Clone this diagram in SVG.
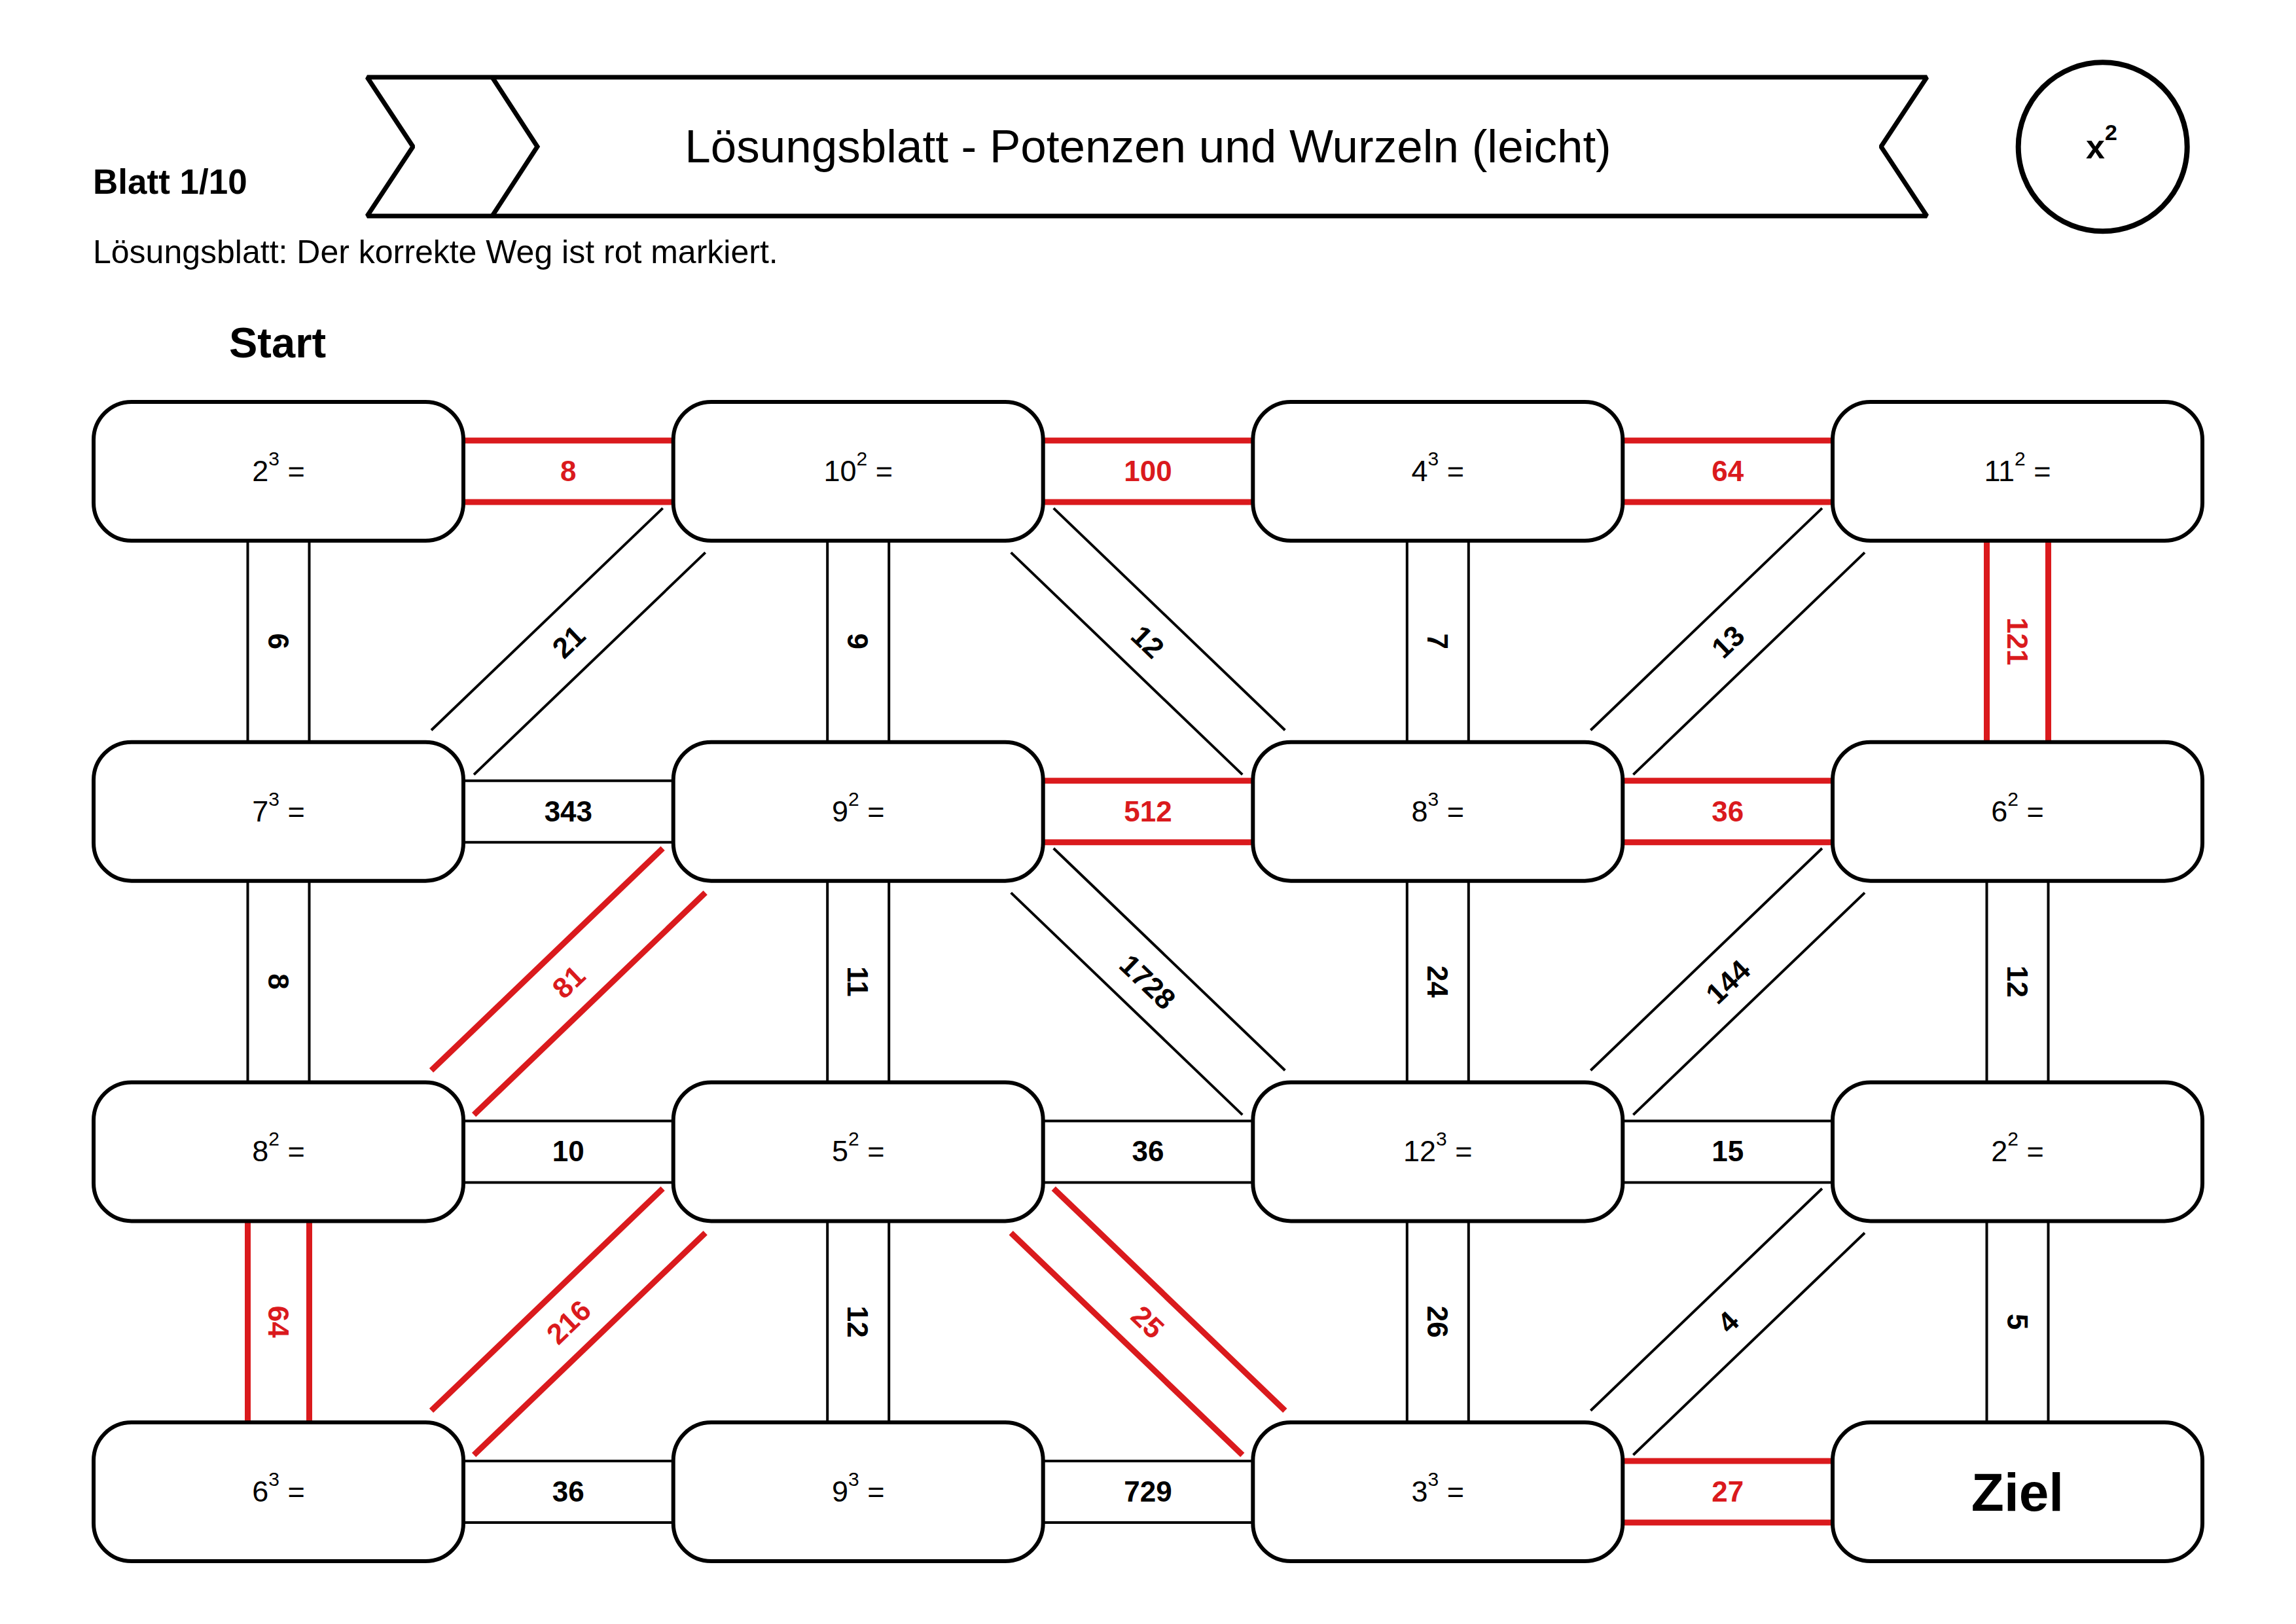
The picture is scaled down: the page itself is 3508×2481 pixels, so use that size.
<svg xmlns="http://www.w3.org/2000/svg" width="3508" height="2481" viewBox="0 0 3508 2481">
<style>
text{font-family:"Liberation Sans",Arial,sans-serif;fill:#000}
.box{fill:#fff;stroke:#000;stroke-width:6}
.cb{stroke:#000;stroke-width:4;fill:none}
.cr{stroke:#da1a1d;stroke-width:9;fill:none}
.lb{font-size:44px;font-weight:bold;text-anchor:middle}
.lr{font-size:44px;font-weight:bold;text-anchor:middle;fill:#da1a1d}
.nt{font-size:45px;text-anchor:middle;white-space:pre}
.sup{font-size:30px}
.ziel{font-size:82px;font-weight:bold;text-anchor:middle}
</style>
<rect width="3508" height="2481" fill="#fff"/>
<g id="header">
<polygon points="561,118 2944,118 2874,224 2944,330 561,330 631,224" fill="#fff" stroke="#000" stroke-width="7" stroke-linejoin="bevel"/>
<polyline points="752,118 821,224 752,330" fill="none" stroke="#000" stroke-width="7"/>
<text x="1754" y="248" font-size="71" text-anchor="middle">Lösungsblatt - Potenzen und Wurzeln (leicht)</text>
<text x="142" y="296" font-size="53" font-weight="bold">Blatt 1/10</text>
<text x="142" y="402" font-size="50">Lösungsblatt: Der korrekte Weg ist rot markiert.</text>
<circle cx="3212.7" cy="224.3" r="129" fill="#fff" stroke="#000" stroke-width="8"/>
<text x="3187" y="242" font-size="52" font-weight="bold">x<tspan font-size="34" dy="-28">2</tspan></text>
<text x="350" y="546" font-size="65" font-weight="bold">Start</text>
</g>
<g id="connectors">
<g><line class="cr" x1="708" y1="673" x2="1028.7" y2="673"/><line class="cr" x1="708" y1="767" x2="1028.7" y2="767"/><text class="lr" x="868.35" y="735">8</text></g>
<g><line class="cr" x1="1593.7" y1="673" x2="1914.3" y2="673"/><line class="cr" x1="1593.7" y1="767" x2="1914.3" y2="767"/><text class="lr" x="1754" y="735">100</text></g>
<g><line class="cr" x1="2479.3" y1="673" x2="2800" y2="673"/><line class="cr" x1="2479.3" y1="767" x2="2800" y2="767"/><text class="lr" x="2639.65" y="735">64</text></g>
<g><line class="cb" x1="708" y1="1192.7" x2="1028.7" y2="1192.7"/><line class="cb" x1="708" y1="1286.7" x2="1028.7" y2="1286.7"/><text class="lb" x="868.35" y="1254.7">343</text></g>
<g><line class="cr" x1="1593.7" y1="1192.7" x2="1914.3" y2="1192.7"/><line class="cr" x1="1593.7" y1="1286.7" x2="1914.3" y2="1286.7"/><text class="lr" x="1754" y="1254.7">512</text></g>
<g><line class="cr" x1="2479.3" y1="1192.7" x2="2800" y2="1192.7"/><line class="cr" x1="2479.3" y1="1286.7" x2="2800" y2="1286.7"/><text class="lr" x="2639.65" y="1254.7">36</text></g>
<g><line class="cb" x1="708" y1="1712.4" x2="1028.7" y2="1712.4"/><line class="cb" x1="708" y1="1806.4" x2="1028.7" y2="1806.4"/><text class="lb" x="868.35" y="1774.4">10</text></g>
<g><line class="cb" x1="1593.7" y1="1712.4" x2="1914.3" y2="1712.4"/><line class="cb" x1="1593.7" y1="1806.4" x2="1914.3" y2="1806.4"/><text class="lb" x="1754" y="1774.4">36</text></g>
<g><line class="cb" x1="2479.3" y1="1712.4" x2="2800" y2="1712.4"/><line class="cb" x1="2479.3" y1="1806.4" x2="2800" y2="1806.4"/><text class="lb" x="2639.65" y="1774.4">15</text></g>
<g><line class="cb" x1="708" y1="2232.1" x2="1028.7" y2="2232.1"/><line class="cb" x1="708" y1="2326.1" x2="1028.7" y2="2326.1"/><text class="lb" x="868.35" y="2294.1">36</text></g>
<g><line class="cb" x1="1593.7" y1="2232.1" x2="1914.3" y2="2232.1"/><line class="cb" x1="1593.7" y1="2326.1" x2="1914.3" y2="2326.1"/><text class="lb" x="1754" y="2294.1">729</text></g>
<g><line class="cr" x1="2479.3" y1="2232.1" x2="2800" y2="2232.1"/><line class="cr" x1="2479.3" y1="2326.1" x2="2800" y2="2326.1"/><text class="lr" x="2639.65" y="2294.1">27</text></g>
<g><line class="cb" x1="378.5" y1="826" x2="378.5" y2="1133.7"/><line class="cb" x1="472.5" y1="826" x2="472.5" y2="1133.7"/><text class="lb" transform="translate(425.5,979.85) rotate(90)" y="16">6</text></g>
<g><line class="cb" x1="1264.2" y1="826" x2="1264.2" y2="1133.7"/><line class="cb" x1="1358.2" y1="826" x2="1358.2" y2="1133.7"/><text class="lb" transform="translate(1311.2,979.85) rotate(90)" y="16">9</text></g>
<g><line class="cb" x1="2149.8" y1="826" x2="2149.8" y2="1133.7"/><line class="cb" x1="2243.8" y1="826" x2="2243.8" y2="1133.7"/><text class="lb" transform="translate(2196.8,979.85) rotate(90)" y="16">7</text></g>
<g><line class="cr" x1="3035.5" y1="826" x2="3035.5" y2="1133.7"/><line class="cr" x1="3129.5" y1="826" x2="3129.5" y2="1133.7"/><text class="lr" transform="translate(3082.5,979.85) rotate(90)" y="16">121</text></g>
<g><line class="cb" x1="378.5" y1="1345.7" x2="378.5" y2="1653.4"/><line class="cb" x1="472.5" y1="1345.7" x2="472.5" y2="1653.4"/><text class="lb" transform="translate(425.5,1499.55) rotate(90)" y="16">8</text></g>
<g><line class="cb" x1="1264.2" y1="1345.7" x2="1264.2" y2="1653.4"/><line class="cb" x1="1358.2" y1="1345.7" x2="1358.2" y2="1653.4"/><text class="lb" transform="translate(1311.2,1499.55) rotate(90)" y="16">11</text></g>
<g><line class="cb" x1="2149.8" y1="1345.7" x2="2149.8" y2="1653.4"/><line class="cb" x1="2243.8" y1="1345.7" x2="2243.8" y2="1653.4"/><text class="lb" transform="translate(2196.8,1499.55) rotate(90)" y="16">24</text></g>
<g><line class="cb" x1="3035.5" y1="1345.7" x2="3035.5" y2="1653.4"/><line class="cb" x1="3129.5" y1="1345.7" x2="3129.5" y2="1653.4"/><text class="lb" transform="translate(3082.5,1499.55) rotate(90)" y="16">12</text></g>
<g><line class="cr" x1="378.5" y1="1865.4" x2="378.5" y2="2173.1"/><line class="cr" x1="472.5" y1="1865.4" x2="472.5" y2="2173.1"/><text class="lr" transform="translate(425.5,2019.25) rotate(90)" y="16">64</text></g>
<g><line class="cb" x1="1264.2" y1="1865.4" x2="1264.2" y2="2173.1"/><line class="cb" x1="1358.2" y1="1865.4" x2="1358.2" y2="2173.1"/><text class="lb" transform="translate(1311.2,2019.25) rotate(90)" y="16">12</text></g>
<g><line class="cb" x1="2149.8" y1="1865.4" x2="2149.8" y2="2173.1"/><line class="cb" x1="2243.8" y1="1865.4" x2="2243.8" y2="2173.1"/><text class="lb" transform="translate(2196.8,2019.25) rotate(90)" y="16">26</text></g>
<g><line class="cb" x1="3035.5" y1="1865.4" x2="3035.5" y2="2173.1"/><line class="cb" x1="3129.5" y1="1865.4" x2="3129.5" y2="2173.1"/><text class="lb" transform="translate(3082.5,2019.25) rotate(90)" y="16">5</text></g>
<g transform="translate(868.35,979.85) rotate(-43.81)"><line class="cb" x1="-245" y1="-47" x2="245" y2="-47"/><line class="cb" x1="-245" y1="47" x2="245" y2="47"/><text class="lb" y="16">21</text></g>
<g transform="translate(1754,979.85) rotate(43.81)"><line class="cb" x1="-245" y1="-47" x2="245" y2="-47"/><line class="cb" x1="-245" y1="47" x2="245" y2="47"/><text class="lb" y="16">12</text></g>
<g transform="translate(2639.65,979.85) rotate(-43.81)"><line class="cb" x1="-245" y1="-47" x2="245" y2="-47"/><line class="cb" x1="-245" y1="47" x2="245" y2="47"/><text class="lb" y="16">13</text></g>
<g transform="translate(868.35,1499.55) rotate(-43.81)"><line class="cr" x1="-245" y1="-47" x2="245" y2="-47"/><line class="cr" x1="-245" y1="47" x2="245" y2="47"/><text class="lr" y="16">81</text></g>
<g transform="translate(1754,1499.55) rotate(43.81)"><line class="cb" x1="-245" y1="-47" x2="245" y2="-47"/><line class="cb" x1="-245" y1="47" x2="245" y2="47"/><text class="lb" y="16">1728</text></g>
<g transform="translate(2639.65,1499.55) rotate(-43.81)"><line class="cb" x1="-245" y1="-47" x2="245" y2="-47"/><line class="cb" x1="-245" y1="47" x2="245" y2="47"/><text class="lb" y="16">144</text></g>
<g transform="translate(868.35,2019.25) rotate(-43.81)"><line class="cr" x1="-245" y1="-47" x2="245" y2="-47"/><line class="cr" x1="-245" y1="47" x2="245" y2="47"/><text class="lr" y="16">216</text></g>
<g transform="translate(1754,2019.25) rotate(43.81)"><line class="cr" x1="-245" y1="-47" x2="245" y2="-47"/><line class="cr" x1="-245" y1="47" x2="245" y2="47"/><text class="lr" y="16">25</text></g>
<g transform="translate(2639.65,2019.25) rotate(-43.81)"><line class="cb" x1="-245" y1="-47" x2="245" y2="-47"/><line class="cb" x1="-245" y1="47" x2="245" y2="47"/><text class="lb" y="16">4</text></g>
</g>
<g id="n00"><rect class="box" x="143" y="614" width="565" height="212" rx="58"/><text class="nt" x="425.5" y="735">2<tspan class="sup" dy="-24">3</tspan><tspan dy="24"> =</tspan></text></g>
<g id="n01"><rect class="box" x="1028.7" y="614" width="565" height="212" rx="58"/><text class="nt" x="1311.2" y="735">10<tspan class="sup" dy="-24">2</tspan><tspan dy="24"> =</tspan></text></g>
<g id="n02"><rect class="box" x="1914.3" y="614" width="565" height="212" rx="58"/><text class="nt" x="2196.8" y="735">4<tspan class="sup" dy="-24">3</tspan><tspan dy="24"> =</tspan></text></g>
<g id="n03"><rect class="box" x="2800" y="614" width="565" height="212" rx="58"/><text class="nt" x="3082.5" y="735">11<tspan class="sup" dy="-24">2</tspan><tspan dy="24"> =</tspan></text></g>
<g id="n10"><rect class="box" x="143" y="1133.7" width="565" height="212" rx="58"/><text class="nt" x="425.5" y="1254.7">7<tspan class="sup" dy="-24">3</tspan><tspan dy="24"> =</tspan></text></g>
<g id="n11"><rect class="box" x="1028.7" y="1133.7" width="565" height="212" rx="58"/><text class="nt" x="1311.2" y="1254.7">9<tspan class="sup" dy="-24">2</tspan><tspan dy="24"> =</tspan></text></g>
<g id="n12"><rect class="box" x="1914.3" y="1133.7" width="565" height="212" rx="58"/><text class="nt" x="2196.8" y="1254.7">8<tspan class="sup" dy="-24">3</tspan><tspan dy="24"> =</tspan></text></g>
<g id="n13"><rect class="box" x="2800" y="1133.7" width="565" height="212" rx="58"/><text class="nt" x="3082.5" y="1254.7">6<tspan class="sup" dy="-24">2</tspan><tspan dy="24"> =</tspan></text></g>
<g id="n20"><rect class="box" x="143" y="1653.4" width="565" height="212" rx="58"/><text class="nt" x="425.5" y="1774.4">8<tspan class="sup" dy="-24">2</tspan><tspan dy="24"> =</tspan></text></g>
<g id="n21"><rect class="box" x="1028.7" y="1653.4" width="565" height="212" rx="58"/><text class="nt" x="1311.2" y="1774.4">5<tspan class="sup" dy="-24">2</tspan><tspan dy="24"> =</tspan></text></g>
<g id="n22"><rect class="box" x="1914.3" y="1653.4" width="565" height="212" rx="58"/><text class="nt" x="2196.8" y="1774.4">12<tspan class="sup" dy="-24">3</tspan><tspan dy="24"> =</tspan></text></g>
<g id="n23"><rect class="box" x="2800" y="1653.4" width="565" height="212" rx="58"/><text class="nt" x="3082.5" y="1774.4">2<tspan class="sup" dy="-24">2</tspan><tspan dy="24"> =</tspan></text></g>
<g id="n30"><rect class="box" x="143" y="2173.1" width="565" height="212" rx="58"/><text class="nt" x="425.5" y="2294.1">6<tspan class="sup" dy="-24">3</tspan><tspan dy="24"> =</tspan></text></g>
<g id="n31"><rect class="box" x="1028.7" y="2173.1" width="565" height="212" rx="58"/><text class="nt" x="1311.2" y="2294.1">9<tspan class="sup" dy="-24">3</tspan><tspan dy="24"> =</tspan></text></g>
<g id="n32"><rect class="box" x="1914.3" y="2173.1" width="565" height="212" rx="58"/><text class="nt" x="2196.8" y="2294.1">3<tspan class="sup" dy="-24">3</tspan><tspan dy="24"> =</tspan></text></g>
<g id="n33"><rect class="box" x="2800" y="2173.1" width="565" height="212" rx="58"/><text class="ziel" x="3082.5" y="2308">Ziel</text></g>
</svg>
